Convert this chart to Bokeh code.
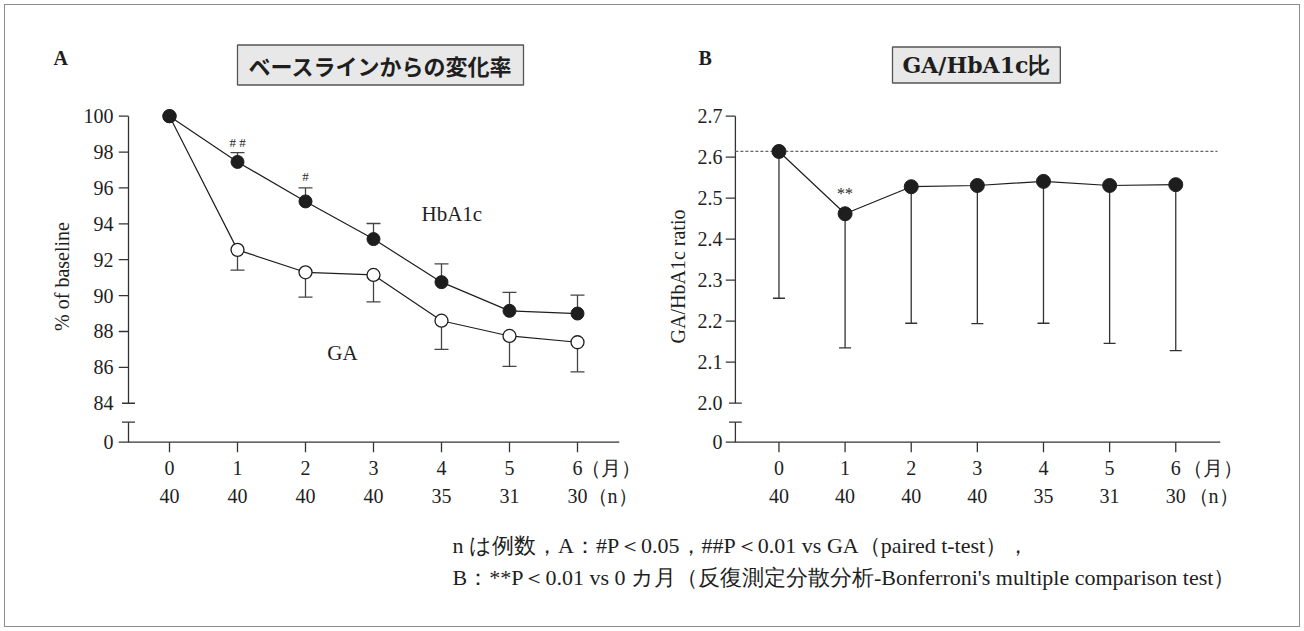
from bokeh.plotting import figure
from bokeh.models import (Range1d, FixedTicker, LinearAxis, Label, ColumnDataSource,
                          Whisker, TeeHead, CustomJSTickFormatter)
from bokeh.layouts import column, row
from bokeh.embed import file_html
from bokeh.resources import INLINE
from bokeh.core.properties import value

# ---------------- data ----------------
months = [0, 1, 2, 3, 4, 5, 6]
n_counts = [40, 40, 40, 40, 35, 31, 30]
hba1c_pct = [100.0, 97.45, 95.25, 93.15, 90.75, 89.15, 89.0]
hba1c_err = [0.0, 0.52, 0.75, 0.87, 1.02, 1.03, 1.03]
ga_pct = [100.0, 92.55, 91.3, 91.15, 88.6, 87.75, 87.4]
ga_err = [0.0, 1.13, 1.38, 1.5, 1.6, 1.7, 1.65]
ratio = [2.614, 2.462, 2.528, 2.531, 2.541, 2.531, 2.533]
ratio_sd = [0.358, 0.327, 0.333, 0.337, 0.346, 0.385, 0.405]
a_ticks = [84, 86, 88, 90, 92, 94, 96, 98, 100]
b_ticks = [2.0, 2.1, 2.2, 2.3, 2.4, 2.5, 2.6, 2.7]

month_unit = "（月）"
n_unit = "（n）"
title_a = "ベースラインからの変化率"
title_b = "GA/HbA1c比"
foot1 = "n は例数，A：#P＜0.05，##P＜0.01 vs GA（paired t-test），"
foot2 = "B：**P＜0.01 vs  0 カ月（反復測定分散分析-Bonferroni's multiple comparison test）"

SERIF = "Liberation Serif"
WIDE_SERIF = "DejaVu Serif"
GOTHIC = "Noto Sans CJK JP"
INK = "#1e1e1e"
AX = "#333333"

TOP = 100      # height of the strip that holds panel letters and titles
PANEL_H = 420  # height of the panel canvases


def base_fig(width, xr, yr, ml, mr):
    p = figure(width=width, height=PANEL_H, x_range=xr, y_range=yr,
               min_border_left=ml, min_border_right=mr, min_border_top=0,
               min_border_bottom=68, toolbar_location=None, output_backend="svg",
               background_fill_color=None, border_fill_color=None)
    p.outline_line_color = None
    p.grid.visible = False
    return p


def style_axes(p, yticks, zero, formatter_code, ylabel, standoff, label_standoff,
               unit_m_pos, unit_n_pos):
    ya = p.yaxis[0]
    ya.ticker = FixedTicker(ticks=[zero] + yticks)
    ya.formatter = CustomJSTickFormatter(code=formatter_code)
    ya.axis_line_color = None
    ya.major_tick_line_color = None
    ya.minor_tick_line_color = None
    ya.major_tick_out = 0
    ya.major_tick_in = 0
    ya.major_label_standoff = standoff
    ya.major_label_text_font = SERIF
    ya.major_label_text_font_size = "20px"
    ya.major_label_text_color = INK
    ya.axis_label = ylabel
    ya.axis_label_text_font = SERIF
    ya.axis_label_text_font_style = "normal"
    ya.axis_label_text_font_size = "20px"
    ya.axis_label_text_color = INK
    ya.axis_label_standoff = label_standoff

    m_over = {m: str(m) for m in months}
    m_over[unit_m_pos] = month_unit
    xa = p.xaxis[0]
    xa.ticker = FixedTicker(ticks=months + [unit_m_pos])
    xa.major_label_overrides = m_over
    xa.axis_line_color = None
    xa.major_tick_line_color = None
    xa.minor_tick_line_color = None
    xa.major_tick_out = 0
    xa.major_tick_in = 0
    xa.major_label_standoff = 4
    xa.major_label_text_font = SERIF
    xa.major_label_text_font_size = "20px"
    xa.major_label_text_color = INK

    n_over = {m: str(n) for m, n in zip(months, n_counts)}
    n_over[unit_n_pos] = n_unit
    na = LinearAxis(ticker=FixedTicker(ticks=months + [unit_n_pos]),
                    major_label_overrides=n_over,
                    axis_line_color=None, major_tick_line_color=None,
                    minor_tick_line_color=None, major_tick_out=0, major_tick_in=0,
                    major_label_standoff=3, major_label_text_font=SERIF,
                    major_label_text_font_size="20px", major_label_text_color=INK)
    p.add_layout(na, "below")


def draw_frame_axes(p, ax_x, x_start, x_end, y_start, yticks, zero, brk, cap_half):
    # x axis line and its outward tick marks
    p.segment(x0=[x_start], y0=[zero], x1=[x_end], y1=[zero], line_color=AX, line_width=1.3)
    p.segment(x0=months, y0=[zero] * len(months), x1=months, y1=[y_start] * len(months),
              line_color=AX, line_width=1.3)
    # broken y axis: upper piece and lower stub
    p.segment(x0=[ax_x, ax_x], y0=[yticks[0], zero], x1=[ax_x, ax_x], y1=[yticks[-1], brk],
              line_color=AX, line_width=1.3)
    # outward y tick marks
    p.segment(x0=[x_start] * (len(yticks) - 1), y0=yticks[1:],
              x1=[ax_x] * (len(yticks) - 1), y1=yticks[1:], line_color=AX, line_width=1.3)
    # break caps
    p.segment(x0=[ax_x - cap_half] * 2, y0=[yticks[0], brk],
              x1=[ax_x + cap_half] * 2, y1=[yticks[0], brk], line_color=AX, line_width=1.3)


# ---------------- panel A ----------------
ax_px, x0_px, step_a = 128, 169, 68.0
ya0_px, ystep_a = 115.7, 17.94


def axd(px):
    return (px - x0_px) / step_a


def ayd(py):
    return 100 - (py - ya0_px) / ystep_a


A_ZERO, A_BREAK = ayd(441.7), ayd(421.7)
a_xs, a_xe, a_ys = axd(118), axd(619), ayd(452)
pA = base_fig(663, Range1d(a_xs, a_xe), Range1d(a_ys, ayd(TOP)), 118, 44)
style_axes(pA, a_ticks, A_ZERO, "return tick < 83.5 ? '0' : tick.toFixed(0);",
           "% of baseline", 5, 8, axd(610), axd(612))
draw_frame_axes(pA, axd(ax_px), a_xs, a_xe, a_ys, a_ticks, A_ZERO, A_BREAK, 6.5 / step_a)

hb_src = ColumnDataSource(dict(x=months[1:], y=hba1c_pct[1:],
                               up=[v + e for v, e in zip(hba1c_pct[1:], hba1c_err[1:])]))
ga_src = ColumnDataSource(dict(x=months[1:], y=ga_pct[1:],
                               lo=[v - e for v, e in zip(ga_pct[1:], ga_err[1:])]))
pA.add_layout(Whisker(base="x", lower="y", upper="up", source=hb_src, dimension="height",
                      line_color="#444", line_width=1.3, lower_head=None,
                      upper_head=TeeHead(size=14, line_color="#444", line_width=1.3)))
pA.add_layout(Whisker(base="x", lower="lo", upper="y", source=ga_src, dimension="height",
                      line_color="#444", line_width=1.3, upper_head=None,
                      lower_head=TeeHead(size=14, line_color="#444", line_width=1.3)))
pA.line(months, ga_pct, line_color=INK, line_width=1.2)
pA.line(months, hba1c_pct, line_color=INK, line_width=1.2)
pA.scatter(months, ga_pct, size=13, marker="circle", fill_color="white",
           line_color=INK, line_width=1.3)
pA.scatter(months, hba1c_pct, size=13, marker="circle", fill_color=INK, line_color=INK)

pA.text(x=[axd(421)], y=[ayd(213)], text=["HbA1c"], text_font=value(SERIF),
        text_font_size="21px", text_color=INK, text_baseline="middle", text_align="left")
pA.text(x=[axd(342)], y=[ayd(352)], text=["GA"], text_font=value(SERIF),
        text_font_size="21px", text_color=INK, text_baseline="middle", text_align="center")
pA.text(x=[months[1], months[2]], y=[ayd(142), ayd(176)], text=["# #", "#"],
        text_font=value(SERIF), text_font_size="13px", text_color=INK,
        text_baseline="middle", text_align="center")

# ---------------- panel B ----------------
bx_px, bx0_px, step_b = 730, 774, 66.8
yb0_px, ystep_b = 115.7, 410.0


def bxd(px):
    return (px - bx0_px) / step_b


def byd(py):
    return 2.7 - (py - yb0_px) / ystep_b


B_ZERO, B_BREAK = byd(441.7), byd(421.7)
b_xs, b_xe, b_ys = bxd(720), bxd(1220), byd(452)
pB = base_fig(641, Range1d(b_xs, b_xe), Range1d(b_ys, byd(TOP)), 57, 84)
style_axes(pB, b_ticks, B_ZERO, "return tick < 1.98 ? '0' : tick.toFixed(1);",
           "GA/HbA1c ratio", 3, 6, bxd(1212), bxd(1213))
draw_frame_axes(pB, bxd(bx_px), b_xs, b_xe, b_ys, b_ticks, B_ZERO, B_BREAK, 6.5 / step_b)

pB.line(x=[bxd(bx_px), bxd(1217)], y=[ratio[0], ratio[0]], line_color="#666666",
        line_width=1.3, line_dash="3 2")
r_src = ColumnDataSource(dict(x=months, y=ratio,
                              lo=[v - e for v, e in zip(ratio, ratio_sd)]))
pB.add_layout(Whisker(base="x", lower="lo", upper="y", source=r_src, dimension="height",
                      line_color="#333", line_width=1.3, upper_head=None,
                      lower_head=TeeHead(size=12, line_color="#333", line_width=1.3)))
pB.line(months, ratio, line_color=INK, line_width=1.2)
pB.scatter(months, ratio, size=14, marker="circle", fill_color=INK, line_color=INK)
pB.text(x=[months[1]], y=[byd(193)], text=["**"], text_font=value(SERIF),
        text_font_size="16px", text_color=INK, text_baseline="middle", text_align="center")

# ---------------- top strip: panel letters and titles ----------------
pT = figure(width=1304, height=TOP, x_range=Range1d(0, 1304), y_range=Range1d(TOP, 0),
            min_border=0, toolbar_location=None, output_backend="svg",
            background_fill_color=None, border_fill_color=None)
pT.axis.visible = False
pT.grid.visible = False
pT.outline_line_color = None
pT.text(x=[53, 698], y=[57, 57], text=["A", "B"], text_font=value(SERIF),
        text_font_style="bold", text_font_size="20px", text_color=INK,
        text_baseline="middle", text_align="left")
pT.add_layout(Label(x=237, y=64.5, text=title_a, text_font=GOTHIC,
                    text_font_style="bold", text_font_size="22px", text_color=INK,
                    text_baseline="middle", text_align="left", anchor="center_left",
                    background_fill_color="#e8e8e8", border_line_color="#555555",
                    border_line_width=1.3, padding=(11, 4)))
pT.add_layout(Label(x=892, y=64.5, text=title_b, text_font=WIDE_SERIF,
                    text_font_style="bold", text_font_size="22px", text_color=INK,
                    text_baseline="middle", text_align="left", anchor="center_left",
                    background_fill_color="#e8e8e8", border_line_color="#555555",
                    border_line_width=1.3, padding=(10, 5)))

# ---------------- footnote ----------------
FOOT_H = 631 - TOP - PANEL_H
pF = figure(width=1304, height=FOOT_H, x_range=Range1d(0, 1304), y_range=Range1d(FOOT_H, 0),
            min_border=0, toolbar_location=None, output_backend="svg",
            background_fill_color=None, border_fill_color=None)
pF.axis.visible = False
pF.grid.visible = False
pF.outline_line_color = None
pF.text(x=[452, 452], y=[25, 57], text=[foot1, foot2], text_font=value(SERIF),
        text_font_size="22px", text_color=INK, text_baseline="middle", text_align="left")

layout = column(pT, row(pA, pB), pF,
                styles={"outline": "1.5px solid #8c8c8c", "outline-offset": "-5px"})

open("out.html", "w").write(file_html(layout, INLINE))
